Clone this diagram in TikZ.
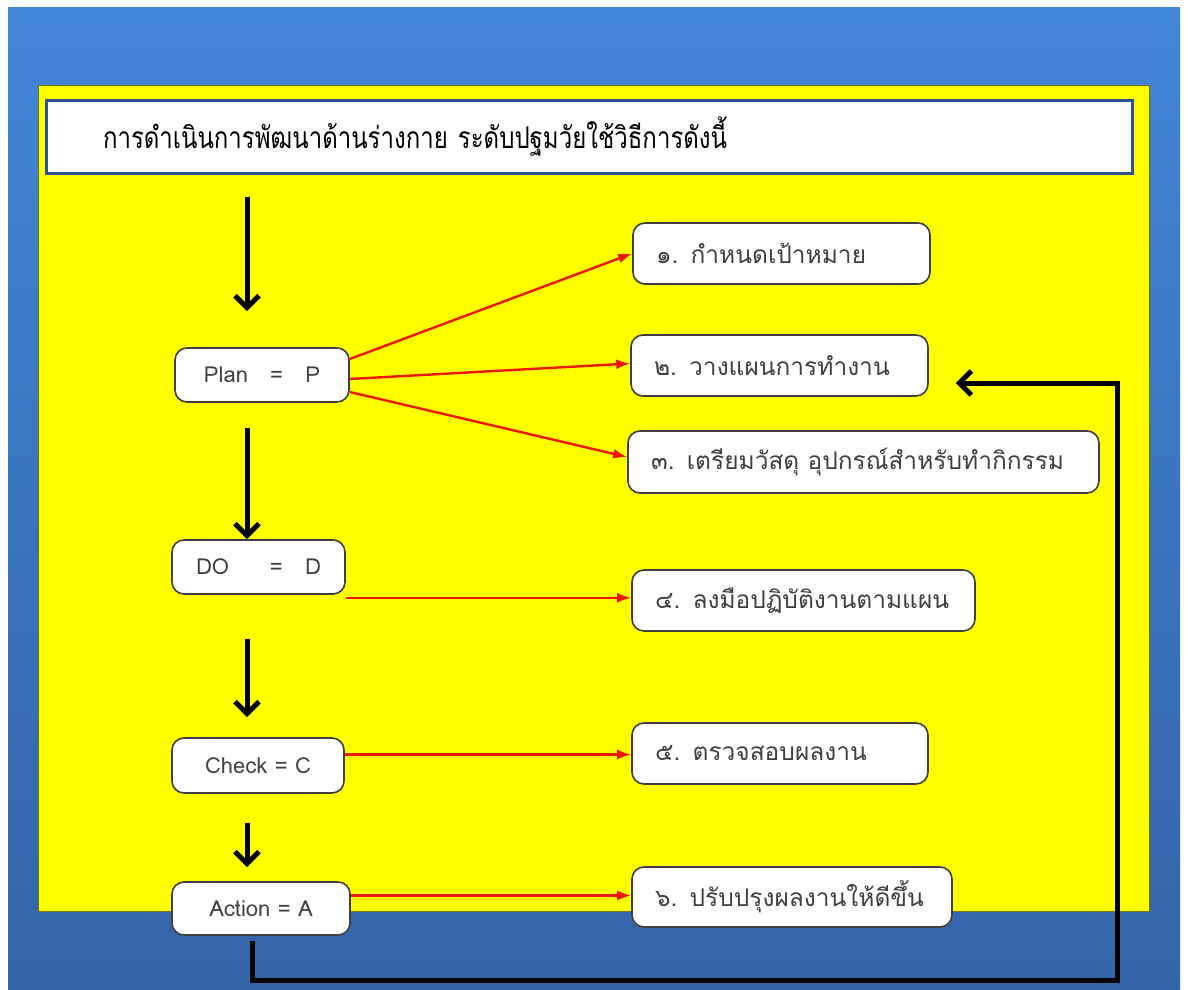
\documentclass[tikz,border=0pt]{standalone}
\usepackage{fontspec}
\setmainfont[Script=Thai]{Loma}
\newfontfamily\headfont[Script=Thai, FakeStretch=0.8]{Loma}
\usetikzlibrary{arrows.meta}
\definecolor{bluetop}{RGB}{66,134,216}
\definecolor{bluebot}{RGB}{52,100,168}
\definecolor{frameblue}{RGB}{47,84,150}
\definecolor{boxgray}{RGB}{64,64,64}
\definecolor{arrred}{RGB}{235,25,0}
\definecolor{ylw}{RGB}{255,255,0}

\begin{document}
\begin{tikzpicture}[
          ph/.style={draw=boxgray, line width=1.6pt, fill=white, rounded corners=12pt,
            minimum width=#1, minimum height=54pt, text=boxgray,
            font=\fontsize{22}{26}\selectfont},
          st/.style={draw=boxgray, line width=1.6pt, fill=white, rounded corners=12pt,
            text width=#1, minimum height=61pt, inner xsep=23pt, align=left, text=boxgray,
            font=\fontsize{24.5}{28}\selectfont},
          ra/.style={arrred, line width=2.4pt, -{Latex[length=14pt,width=10pt]}},
          ba/.style={black, line width=5pt, -{Straight Barb[length=12pt,width=24pt]}},
          x=1pt,
          y=-1pt,
        ]
      % frames
      \fill[white] (0,0) rectangle (1188,990);
      \shade[top color=bluetop, bottom color=bluebot] (8,8) rectangle (1180,990);
      \fill[ylw, draw=ylw!45!black, line width=0.8pt] (38,85) rectangle (1149,911);
      \node[draw=frameblue, line width=3pt, fill=white, text width=972pt, inner xsep=57pt,
        minimum height=73pt, align=left, font=\headfont\fontsize{30}{34}\selectfont] (title) at (589,136.5)
        {การดำเนินการพัฒนาด้านร่างกาย ระดับปฐมวัยใช้วิธีการดังนี้};
      % PDCA stages
      \node[ph=174pt] (plan) at (262,375) {Plan \ \ = \ \ P};
      \node[ph=173pt] (do) at (258.5,567) {DO \hspace{26pt} = \ \ D};
      \node[ph=172pt, minimum height=55pt] (check) at (258,765.5) {Check = C};
      \node[ph=178pt, minimum height=53pt] (act) at (261,908.5) {Action = A};
      % steps
      \node[st=251pt] (g1) at (781.5,253.5) {๑. กำหนดเป้าหมาย};
      \node[st=251pt] (g2) at (779.5,365.5) {๒. วางแผนการทำงาน};
      \node[st=425pt, minimum height=62pt] (g3) at (863.5,462) {๓. เตรียมวัสดุ อุปกรณ์สำหรับทำกิกรรม};
      \node[st=297pt] (g4) at (803.5,600.5) {๔. ลงมือปฏิบัติงานตามแผน};
      \node[st=250pt] (g5) at (780,753.5) {๕. ตรวจสอบผลงาน};
      \node[st=274pt, minimum height=60pt] (g6) at (792,897) {๖. ปรับปรุงผลงานให้ดีขึ้น};
      \coordinate (spine) at (247,0);
      \coordinate (loop) at (1117,980);
      \coordinate (dofoot) at ([yshift=-3pt]do.south east);
      \coordinate (checkout) at ([yshift=11pt]check.east);
      \coordinate (actout) at ([yshift=13pt]act.east);
      % red links
      \draw[ra] ([yshift=16pt]plan.east) -- (g1.west);
      \draw[ra] ([yshift=-4pt]plan.east) -- ([yshift=2pt]g2.west);
      \draw[ra] ([yshift=-17pt]plan.east) -- ([yshift=5pt]g3.west);
      \draw[ra] (dofoot) -- (dofoot -| g4.west);
      \draw[ra] (checkout) -- (checkout -| g5.west);
      \draw[ra] (actout) -- (actout -| g6.west);
      % black flow
      \draw[ba, shorten <=22pt, shorten >=36pt] (title.south -| spine) -- (plan.north -| spine);
      \draw[ba, shorten <=25pt] (plan.south -| spine) -- (do.north -| spine);
      \draw[ba, shorten <=44pt, shorten >=20pt] (do.south -| spine) -- (check.north -| spine);
      \draw[ba, shorten <=29pt, shorten >=14pt] (check.south -| spine) -- (act.north -| spine);
      \draw[ba, shorten <=5pt, shorten >=27pt] ([xshift=-9pt]act.south) |- (loop) |- ([yshift=-17.5pt]g2.east);
    \end{tikzpicture}
\end{document}
